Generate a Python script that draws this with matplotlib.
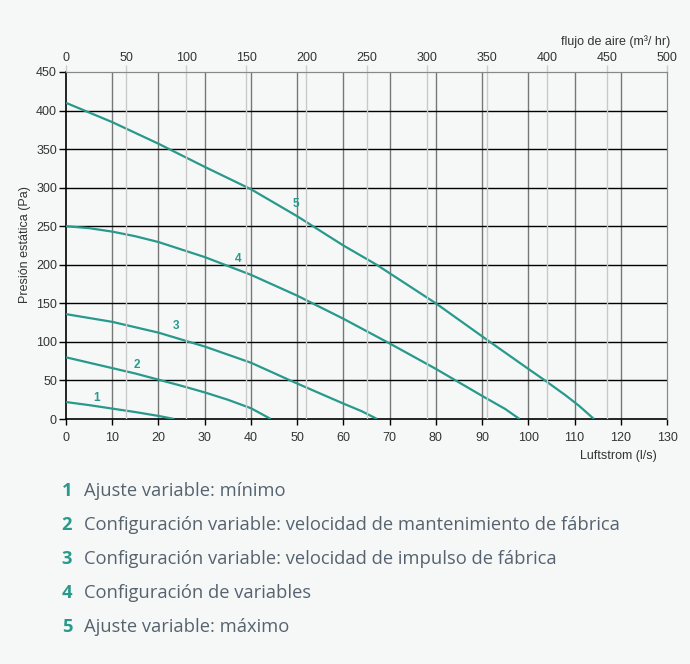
import matplotlib
matplotlib.use("Agg")
import matplotlib.pyplot as plt

# ---------------- data ----------------
c1_x = [0, 5, 10, 15, 20, 23.4]
c1_y = [22, 18, 13.5, 9, 4, 0]
c2_x = [0, 5, 10, 15, 20, 25, 30, 35, 40, 44.3]
c2_y = [80, 73, 66, 59, 51, 43, 34.5, 25, 14, 0]
c3_x = [0, 10, 20, 30, 40, 48.5, 55, 60, 64, 67.3]
c3_y = [136, 126, 112, 94, 73, 50, 33, 20, 10, 0]
c4_x = [0, 5, 10, 15, 20, 30, 40, 50, 60, 70, 80, 90, 95, 98.1]
c4_y = [250, 247.5, 243, 237, 229.5, 210, 187, 160, 130, 98, 65, 30, 13, 0]
c5_x = [0, 10, 20, 30, 40, 50, 60, 67.2, 80, 91.7, 100, 103.6, 108, 111, 114.2]
c5_y = [410, 385, 357, 327, 298, 263, 225, 200, 150, 100, 65, 50, 31, 17, 0]

curve_ids = ["1", "2", "3", "4", "5"]
label_x = [6.7, 15.4, 23.8, 37.2, 49.8]
label_y = [27.5, 70, 120.5, 208, 279]

legend_texts = [
    "Ajuste variable: mínimo",
    "Configuración variable: velocidad de mantenimiento de fábrica",
    "Configuración variable: velocidad de impulso de fábrica",
    "Configuración de variables",
    "Ajuste variable: máximo",
]

x_ticks = list(range(0, 131, 10))
y_ticks = list(range(0, 451, 50))
top_ticks = list(range(0, 501, 50))

x_label = "Luftstrom (l/s)"
y_label = "Presión estática (Pa)"
top_label = "flujo de aire (m³/ hr)"

# ---------------- style ----------------
TEAL = "#28998a"
BG = "#f6f8f8"
TXT = "#56636f"

fig = plt.figure(figsize=(6.9, 6.64), dpi=100, facecolor=BG)
W, H = 690, 664
ax = fig.add_axes([66 / W, 1 - 419 / H, (667 - 66) / W, (419 - 72) / H])
ax.set_facecolor(BG)

ax.set_xlim(0, 130)
ax.set_ylim(0, 450)

tick_font = dict(family="Liberation Sans", size=9, color="#333333")

ax.set_xticks(x_ticks)
ax.set_yticks(y_ticks)
ax.set_xticklabels([str(t) for t in x_ticks], **tick_font)
ax.set_yticklabels([str(t) for t in y_ticks], **tick_font)
ax.tick_params(axis="x", direction="out", length=4.5, width=1, color="black", pad=5)
ax.tick_params(axis="y", direction="out", length=5, width=1, color="black", pad=1.5)

# top axis
ax2 = ax.twiny()
ax2.set_xlim(0, 500)
ax2.set_xticks(top_ticks)
ax2.set_xticklabels([str(t) for t in top_ticks], **tick_font)
ax2.tick_params(axis="x", direction="out", length=5, width=1, color="#cccccc", pad=0.5)

# grid lines
for t in top_ticks[1:-1]:
    ax2.axvline(t, color="#c9c9c9", lw=1, zorder=0)
for t in x_ticks[1:-1]:
    ax.axvline(t, color="#777777", lw=1, zorder=1)
for t in y_ticks[1:-1]:
    ax.axhline(t, color="black", lw=1, zorder=1)

for s in ["left", "bottom"]:
    ax.spines[s].set_color("black")
    ax.spines[s].set_linewidth(1.2)
for s in ["top", "right"]:
    ax.spines[s].set_color("#888888")
    ax2.spines[s].set_color("#888888")
ax2.spines["left"].set_visible(False)
ax2.spines["bottom"].set_visible(False)

curves = [(c1_x, c1_y), (c2_x, c2_y), (c3_x, c3_y), (c4_x, c4_y), (c5_x, c5_y)]
for (cx, cy) in curves:
    ax.plot(cx, cy, color=TEAL, lw=1.6, zorder=3, solid_capstyle="butt",
            solid_joinstyle="round")

for cid, lx, ly in zip(curve_ids, label_x, label_y):
    ax.text(lx, ly, cid, color=TEAL, fontsize=8.5, fontweight="bold",
            family="Liberation Sans", ha="center", va="center", zorder=4)

fig.text(25 / W, 1 - 245 / H, y_label, rotation=90, ha="center", va="center",
         family="Liberation Sans", size=9, color="#333333")
fig.text(657 / W, 1 - 456 / H, x_label, ha="right", va="center",
         family="Liberation Sans", size=9, color="#333333")
fig.text(670 / W, 1 - 42 / H, top_label, ha="right", va="center",
         family="Liberation Sans", size=9, color="#333333")

# legend list
rows_y = [491, 525, 559, 593, 627]
for cid, txt, ry in zip(curve_ids, legend_texts, rows_y):
    fig.text(67 / W, 1 - ry / H, cid, ha="center", va="center", color=TEAL,
             family="Open Sans", fontweight="bold", size=13.2)
    fig.text(84 / W, 1 - ry / H, txt, ha="left", va="center", color=TXT,
             family="Open Sans", size=13.2)

fig.savefig("out.png", dpi=100, facecolor=BG)
